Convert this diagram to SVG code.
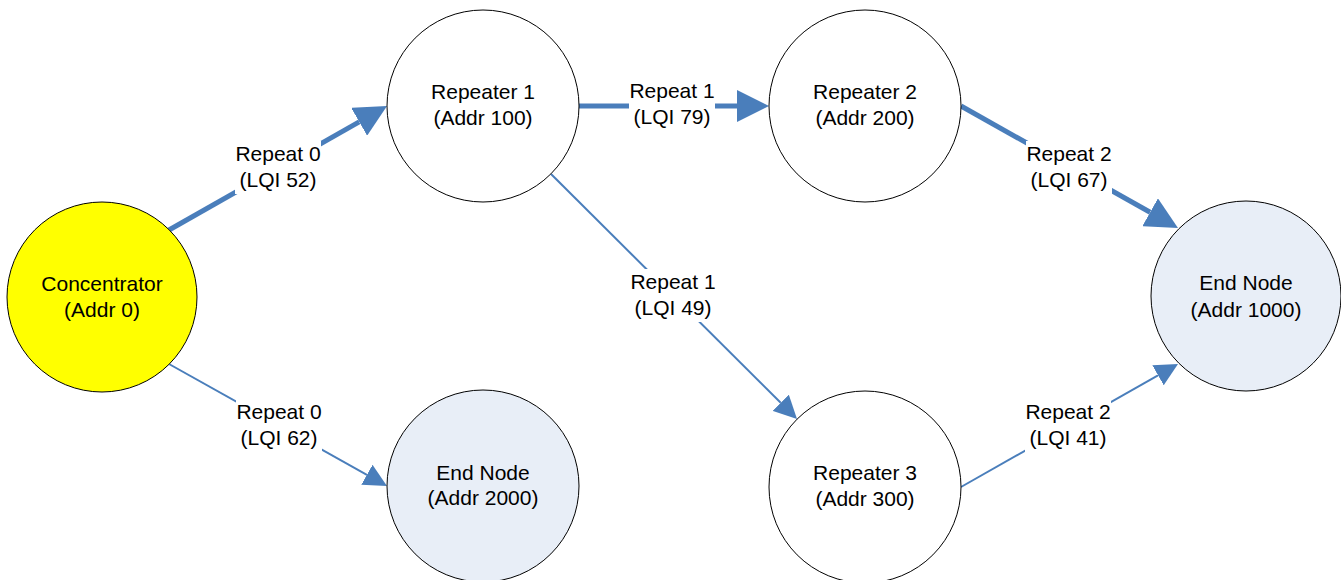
<svg xmlns="http://www.w3.org/2000/svg" width="1341" height="580" viewBox="0 0 1341 580">
<style>
text{font-family:"Liberation Sans",Arial,sans-serif;font-size:21px;fill:#000;text-anchor:middle}
.node{stroke:#000;stroke-width:1}
.thick{stroke:#4A7EBB;stroke-width:5;fill:none}
.thin{stroke:#4A7EBB;stroke-width:2;fill:none}
.lblbg{fill:#fff}
</style>
<defs>
<marker id="arrowThick" markerUnits="userSpaceOnUse" markerWidth="32" markerHeight="32" viewBox="0 0 32 32" refX="0" refY="16" orient="auto">
<path d="M0,0 L32,16 L0,32 z" fill="#4A7EBB"/>
</marker>
<marker id="arrowThin" markerUnits="userSpaceOnUse" markerWidth="23" markerHeight="23" viewBox="0 0 23 23" refX="0" refY="11.5" orient="auto">
<path d="M0,0 L23,11.5 L0,23 z" fill="#4A7EBB"/>
</marker>
</defs>
<rect width="1341" height="580" fill="#fff"/>
<g id="connectors">
<g id="c1">
<line class="thick" x1="169" y1="230" x2="359.2" y2="121.8" marker-end="url(#arrowThick)"/>
<rect class="lblbg" x="235" y="141" width="86" height="53"/>
<text x="278" y="161">Repeat 0</text><text x="278" y="187">(LQI 52)</text>
</g>
<g id="c2">
<line class="thick" x1="579" y1="106" x2="737" y2="106" marker-end="url(#arrowThick)"/>
<rect class="lblbg" x="629" y="78" width="86" height="53"/>
<text x="672" y="98">Repeat 1</text><text x="672" y="124">(LQI 79)</text>
</g>
<g id="c3">
<line class="thick" x1="961" y1="106" x2="1150.1" y2="212.3" marker-end="url(#arrowThick)"/>
<rect class="lblbg" x="1026" y="141" width="86" height="53"/>
<text x="1069" y="161">Repeat 2</text><text x="1069" y="187">(LQI 67)</text>
</g>
<g id="c4">
<line class="thin" x1="551" y1="174" x2="780.7" y2="402.8" marker-end="url(#arrowThin)"/>
<rect class="lblbg" x="630" y="269" width="86" height="53"/>
<text x="673" y="289">Repeat 1</text><text x="673" y="315">(LQI 49)</text>
</g>
<g id="c5">
<line class="thin" x1="169" y1="364" x2="366.9" y2="474.8" marker-end="url(#arrowThin)"/>
<rect class="lblbg" x="236" y="399" width="86" height="53"/>
<text x="279" y="419">Repeat 0</text><text x="279" y="445">(LQI 62)</text>
</g>
<g id="c6">
<line class="thin" x1="961" y1="487" x2="1158" y2="375.3" marker-end="url(#arrowThin)"/>
<rect class="lblbg" x="1025" y="399" width="86" height="53"/>
<text x="1068" y="419">Repeat 2</text><text x="1068" y="445">(LQI 41)</text>
</g>
</g>
<g id="concentrator">
<circle class="node" cx="102" cy="297" r="95" fill="#FFFF00"/>
<text x="102" y="291">Concentrator</text><text x="102" y="317">(Addr 0)</text>
</g>
<g id="repeater1">
<circle class="node" cx="483" cy="106" r="96" fill="#fff"/>
<text x="483" y="99">Repeater 1</text><text x="483" y="125">(Addr 100)</text>
</g>
<g id="repeater2">
<circle class="node" cx="865" cy="106" r="96" fill="#fff"/>
<text x="865" y="99">Repeater 2</text><text x="865" y="125">(Addr 200)</text>
</g>
<g id="repeater3">
<circle class="node" cx="865" cy="487" r="96" fill="#fff"/>
<text x="865" y="480">Repeater 3</text><text x="865" y="506">(Addr 300)</text>
</g>
<g id="endnode2000">
<circle class="node" cx="483" cy="486" r="96" fill="#E8EEF7"/>
<text x="483" y="480">End Node</text><text x="483" y="505">(Addr 2000)</text>
</g>
<g id="endnode1000">
<circle class="node" cx="1246" cy="296" r="95" fill="#E8EEF7"/>
<text x="1246" y="290">End Node</text><text x="1246" y="317">(Addr 1000)</text>
</g>
</svg>
